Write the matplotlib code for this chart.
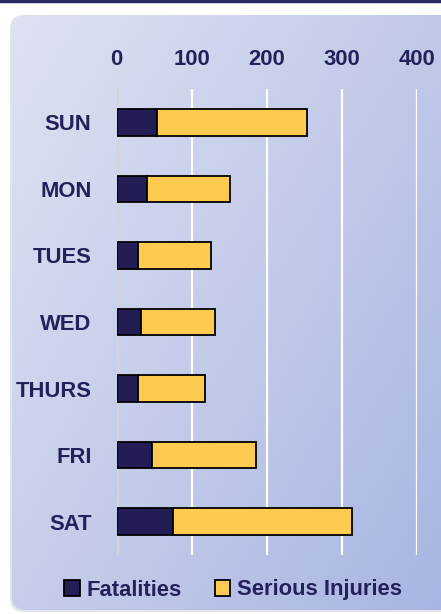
import numpy as np
import matplotlib
matplotlib.use("Agg")
import matplotlib.pyplot as plt
from matplotlib.patches import FancyBboxPatch, Patch

plt.rcParams['font.family'] = ['Liberation Sans Narrow', 'Liberation Sans', 'DejaVu Sans']
plt.rcParams['font.weight'] = 'bold'

# casualties by day of week
days = ["SUN", "MON", "TUES", "WED", "THURS", "FRI", "SAT"]
fatalities = [54, 40, 29, 32, 29, 47, 75]
serious = [199, 111, 97, 99, 89, 139, 238]
xticks = [0, 100, 200, 300, 400]

navy = '#221d55'
gold = '#fecb50'
txt = '#23205a'
fs = 15.8

W, H = 441, 614
fig = plt.figure(figsize=(W / 100, H / 100), dpi=100)
fig.patch.set_facecolor('white')

# background panel with a soft gradient
bg = fig.add_axes([0, 0, 1, 1])
bg.set_xlim(0, W)
bg.set_ylim(H, 0)
bg.axis('off')
yy, xx = np.mgrid[0:H, 0:W]
t = (xx / W * 0.55 + yy / H * 0.45)
c0 = np.array([0xe0, 0xe3, 0xf2]) / 255
c1 = np.array([0xa8, 0xb5, 0xe2]) / 255
img = c0[None, None, :] * (1 - t[..., None]) + c1[None, None, :] * t[..., None]

shadow = FancyBboxPatch((10, 15), 460, 597, boxstyle="round,pad=0,rounding_size=14",
                        fc='#c8cbd8', ec='none', alpha=0.5)
bg.add_patch(shadow)
panel = FancyBboxPatch((12, 15), 460, 595, boxstyle="round,pad=0,rounding_size=14",
                       fc='none', ec='none')
bg.add_patch(panel)
im = bg.imshow(img, extent=(0, W, H, 0), aspect='auto', zorder=1)
im.set_clip_path(panel)
bg.plot([0, W], [1, 1], color='#2a2860', lw=2.5, zorder=3)

# bar chart
ax = fig.add_axes([116.5 / W, 1 - 555 / H, 300.5 / W, 466 / H])
ax.patch.set_alpha(0)
y = np.arange(len(days))
ax.barh(y, fatalities, height=0.4, color=navy, edgecolor='black', lw=1.3, zorder=3)
ax.barh(y, serious, left=fatalities, height=0.4, color=gold, edgecolor='black', lw=1.3, zorder=3)

ax.set_xlim(0, 400)
ax.set_ylim(6.5, -0.5)
ax.set_xticks(xticks)
ax.xaxis.tick_top()
ax.tick_params(axis='x', length=0, pad=14, labelsize=fs, labelcolor=txt)
ax.set_yticks(y)
ax.set_yticklabels(days)
ax.tick_params(axis='y', length=0, pad=18, labelsize=fs, labelcolor=txt)
for s in ax.spines.values():
    s.set_visible(False)
ax.grid(axis='x', color='white', lw=1.6, zorder=1)
ax.set_axisbelow(True)
ax.axvline(0, color='#d4d4d8', lw=2.5, zorder=2)

handles = [Patch(fc=navy, ec='black', lw=1.3), Patch(fc=gold, ec='black', lw=1.3)]
fig.legend(handles, ["Fatalities", "Serious Injuries"], loc='center', ncol=2,
           bbox_to_anchor=(233 / W, 1 - 590 / H), frameon=False,
           handlelength=0.7, handleheight=0.7, handletextpad=0.3, columnspacing=1.5,
           prop={'size': fs, 'weight': 'bold'}, labelcolor=txt)

fig.savefig('out.png', dpi=100)
